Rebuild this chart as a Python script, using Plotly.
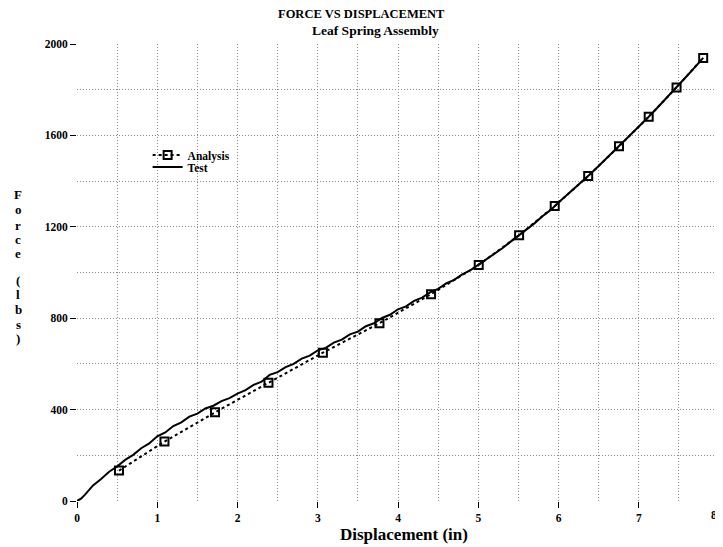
import plotly.graph_objects as go

# Analysis (markers)
analysis_x = [0.523, 1.09, 1.72, 2.386, 3.064, 3.769, 4.412, 5.006, 5.509, 5.953, 6.37, 6.754, 7.124, 7.471, 7.803]
analysis_y = [133, 260, 388, 518, 649, 778, 905, 1033, 1163, 1291, 1422, 1552, 1682, 1810, 1939]

# Test (measured curve)
test_x = [0.0, 0.05, 0.1, 0.15, 0.2, 0.3, 0.4, 0.5, 0.6, 0.7, 0.8, 0.9, 1.0, 1.1, 1.2, 1.3, 1.4, 1.5,
          1.6, 1.7, 1.8, 1.9, 2.0, 2.1, 2.2, 2.3, 2.4, 2.5, 2.6, 2.7, 2.8, 2.9, 3.0, 3.1, 3.2, 3.3,
          3.4, 3.5, 3.6, 3.7, 3.8, 3.9, 4.0, 4.1, 4.2, 4.3, 4.4, 4.5, 4.6, 4.7, 4.8, 4.9, 5.0, 5.1,
          5.2, 5.3, 5.4, 5.5, 5.6, 5.7, 5.8, 5.9, 6.0, 6.1, 6.2, 6.3, 6.4, 6.5, 6.6, 6.7, 6.8, 6.9,
          7.0, 7.1, 7.2, 7.3, 7.4, 7.5, 7.6, 7.7, 7.8]
test_y = [0, 10, 28, 50, 68, 96, 128, 151, 180, 202, 231, 252, 283, 300, 328, 344, 369, 382,
          405, 417, 437, 450, 470, 485, 508, 522, 552, 564, 586, 600, 623, 636, 659, 670, 693, 706,
          729, 741, 765, 778, 801, 815, 839, 852, 876, 890, 913, 928, 952, 968, 992, 1009, 1033, 1055,
          1082, 1106, 1134, 1160, 1189, 1215, 1246, 1273, 1306, 1337, 1368, 1399, 1432, 1466, 1500, 1534, 1568, 1603,
          1638, 1673, 1709, 1746, 1783, 1821, 1860, 1899, 1938]

x_ticks = [0, 1, 2, 3, 4, 5, 6, 7, 8]
y_ticks = [0, 400, 800, 1200, 1600, 2000]

y_title_letters = ["F", "o", "r", "c", "e", "(", "l", "b", "s", ")"]

FONT = "Liberation Serif"
GRID = "#8c8c8c"
DOT = "1px,2px"

# the page body has an 8px margin; compensate so the plot lands where the reference has it
W, H = 715, 539
ML, MR, MT, MB = 69, 4, 36, 46
PW, PH = W - ML - MR, H - MT - MB

fig = go.Figure()
fig.add_trace(go.Scatter(
    x=analysis_x, y=analysis_y, name="<b>Analysis</b>", mode="lines+markers",
    line=dict(color="black", width=2, dash="3px,3px"),
    marker=dict(symbol="square-open", size=8, color="black", line=dict(width=2, color="black")),
    legend="legend",
))
fig.add_trace(go.Scatter(
    x=test_x, y=test_y, name="<b>Test</b>", mode="lines",
    line=dict(color="black", width=2),
    legend="legend2",
))

leg_common = dict(xanchor="left", yanchor="middle", bgcolor="rgba(0,0,0,0)", borderwidth=0,
                  font=dict(size=11.5, family=FONT, color="black"), itemwidth=30)

fig.update_layout(
    width=W, height=H,
    margin=dict(l=ML, r=MR, t=MT, b=MB, autoexpand=False),
    paper_bgcolor="white", plot_bgcolor="white",
    font=dict(family=FONT, color="black", size=12),
    xaxis=dict(
        range=[0, 8], tickvals=x_ticks[:-1], ticktext=[f"<b>{v}</b>" for v in x_ticks[:-1]],
        ticks="outside", ticklen=6, tickcolor="black", showline=False, zeroline=False,
        tickfont=dict(size=11.5), automargin=False,
        showgrid=True, gridcolor=GRID, griddash=DOT, gridwidth=1,
        minor=dict(dtick=0.5, showgrid=True, gridcolor=GRID, griddash=DOT, ticks=""),
    ),
    yaxis=dict(
        range=[0, 2000], tickvals=y_ticks, ticktext=[f"<b>{v}</b>" for v in y_ticks],
        ticks="outside", ticklen=6, tickcolor="black", showline=False, zeroline=False,
        tickfont=dict(size=11.5), automargin=False,
        showgrid=True, gridcolor=GRID, griddash=DOT, gridwidth=1,
        minor=dict(dtick=200, showgrid=True, gridcolor=GRID, griddash=DOT, ticks=""),
    ),
    legend=dict(x=0.11, y=(501 - 155) / PH, **leg_common),
    legend2=dict(x=0.11, y=(501 - 167) / PH, **leg_common),
    showlegend=True,
)

# last x tick sits at the right edge of the plot area (paper x = 1)
fig.add_annotation(
    text=f"<b>{x_ticks[-1]}</b>", xref="paper", yref="paper", x=1, y=0,
    yshift=-6, xanchor="right", yanchor="top", showarrow=False,
    font=dict(family=FONT, size=11.5, color="black"),
)
fig.add_shape(type="line", xref="paper", yref="paper", x0=0.9985, x1=0.9985,
              y0=0, y1=-6 / PH, line=dict(color="black", width=1))


def ann(text, xpx, ypx, size, **kw):
    fig.add_annotation(
        text=text, xref="paper", yref="paper",
        x=(xpx - 8 - ML) / PW, y=(H - MB + 8 - ypx) / PH,
        showarrow=False, font=dict(family=FONT, size=size, color="black"), **kw,
    )

ann("<b>FORCE VS DISPLACEMENT</b>", 361, 14, 12.5, xanchor="center", yanchor="middle")
ann("<b>Leaf Spring Assembly</b>", 375, 31, 13.5, xanchor="center", yanchor="middle")
ann("<b>Displacement (in)</b>", 404, 534, 17, xanchor="center", yanchor="middle")

letter_y = [194, 210, 225, 239, 254, 280, 294, 309, 324, 338]
for ch, yy in zip(y_title_letters, letter_y):
    ann(f"<b>{ch}</b>", 18, yy, 13, xanchor="center", yanchor="middle")

fig.write_html("out.html")
